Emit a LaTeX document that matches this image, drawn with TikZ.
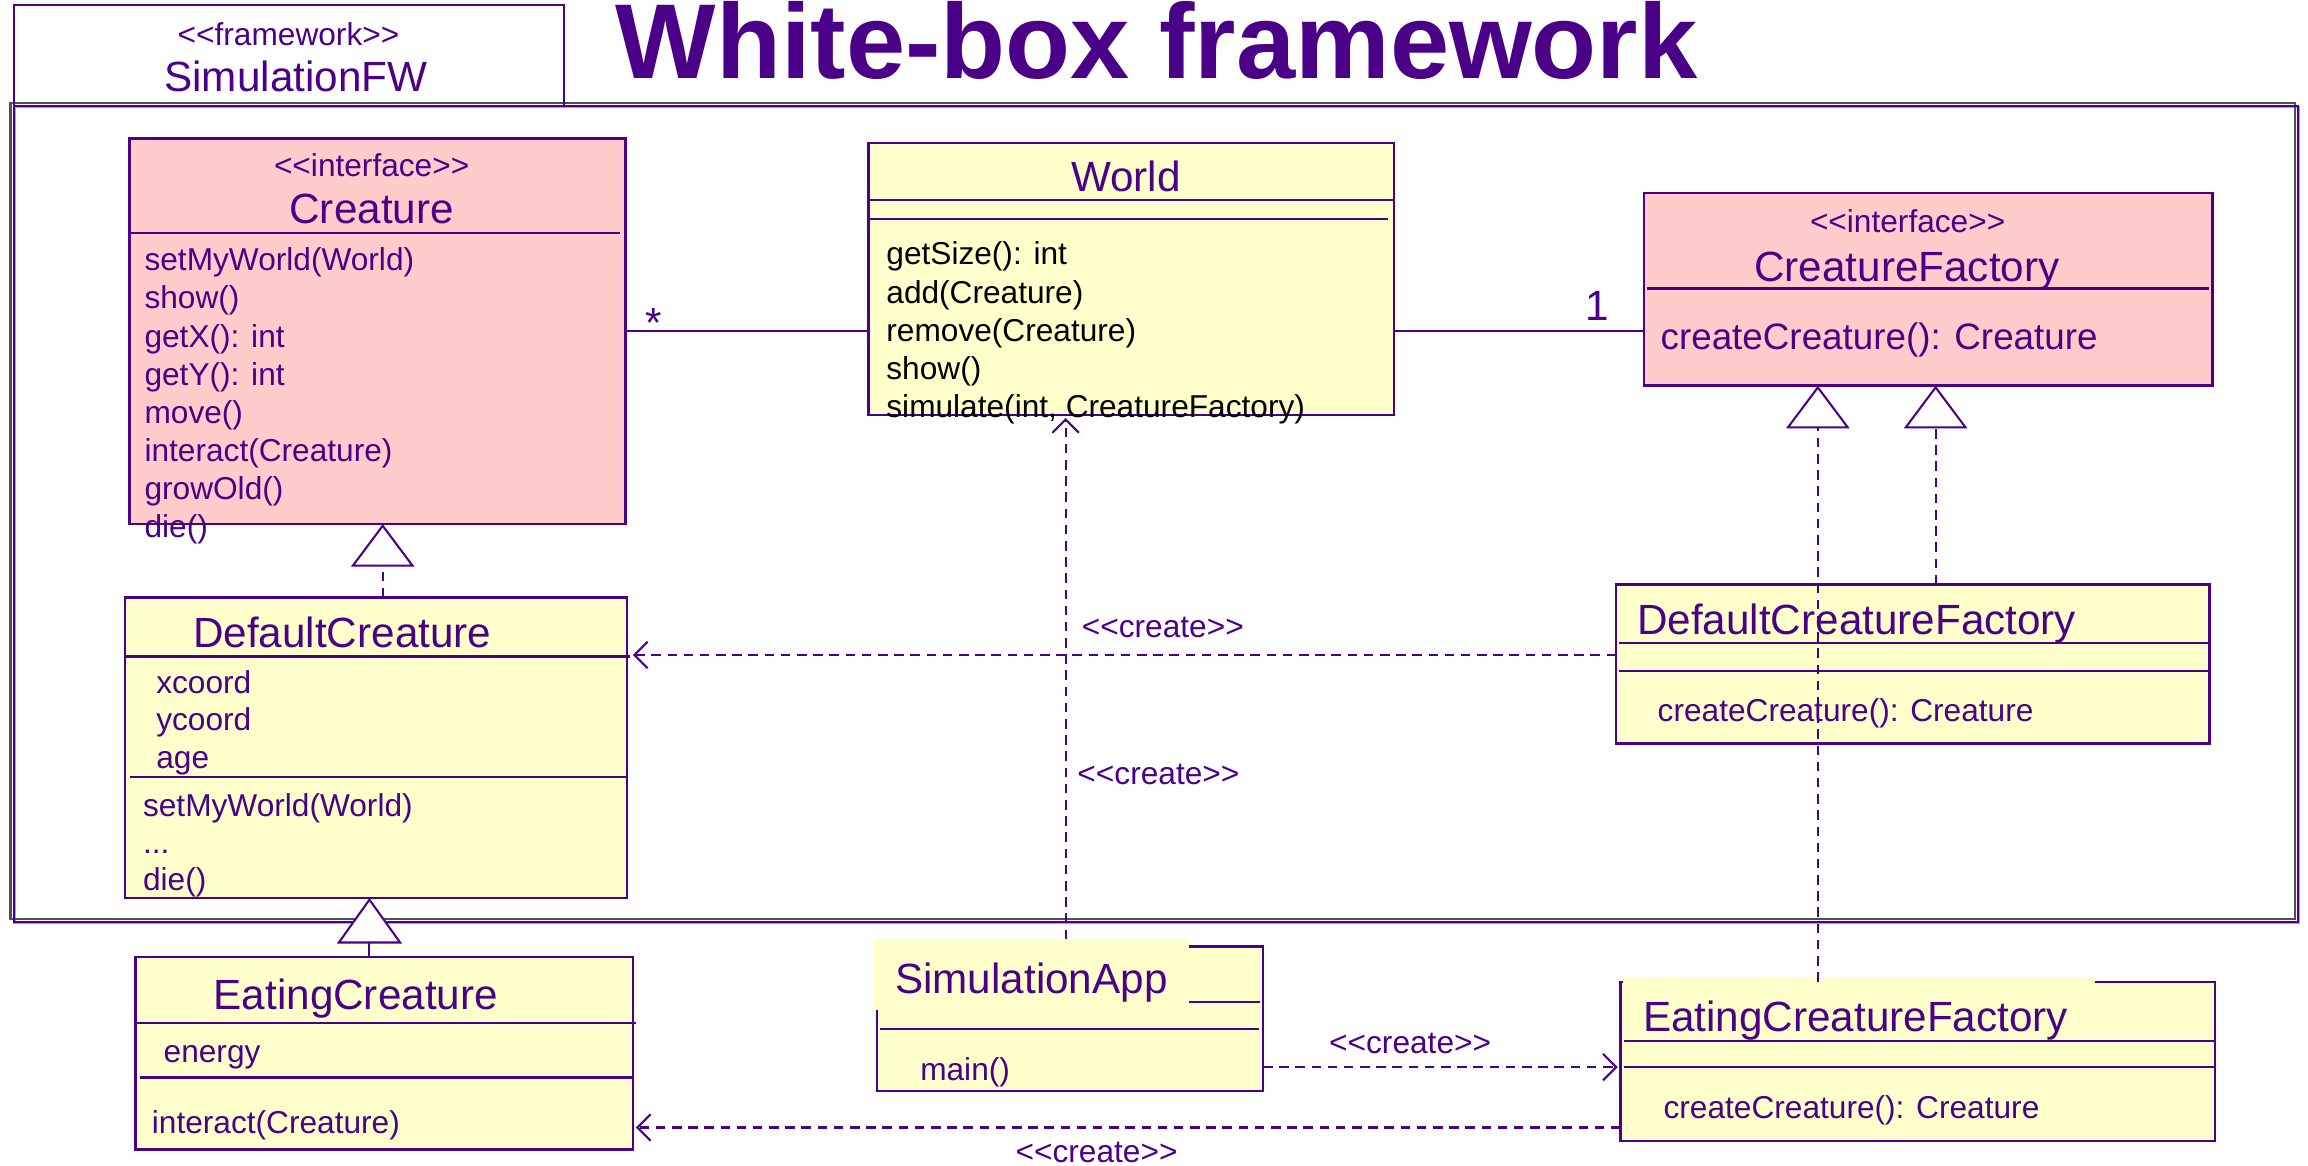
\documentclass[tikz,border=0pt]{standalone}
\usepackage{fontspec}
\setmainfont{Liberation Sans}
\usetikzlibrary{arrows.meta}
\definecolor{ink}{HTML}{4B0088}
\definecolor{pinkfill}{HTML}{FFCCCC}
\definecolor{creamfill}{HTML}{FFFFCC}
\definecolor{shadedark}{HTML}{505050}
\definecolor{shadelight}{HTML}{A8A8A8}
% guillemet-free stereotype brackets (kerns keep << and >> from being joined)
\newcommand\stereotype[1]{<\kern0pt<#1>\kern0pt>}

\begin{document}
\begin{tikzpicture}[x=1pt,y=-1pt,
  box/.style={draw=ink, line width=1.6pt, anchor=north west, inner sep=0pt, outer sep=0pt},
  pinkbox/.style={box, fill=pinkfill},
  creambox/.style={box, fill=creamfill},
  rule/.style={draw=ink, line width=1.4pt},
  body/.style={font=\fontsize{21.5}{26}\selectfont, text=ink, inner sep=0pt, anchor=base west},
  bigbody/.style={body, font=\fontsize{25}{30}\selectfont},
  plain/.style={body, text=black},
  heading/.style={font=\fontsize{28.7}{34}\selectfont, text=ink, inner sep=0pt, anchor=base west},
  headc/.style={heading, anchor=base},
  stereo/.style={body, anchor=base},
  assoc/.style={draw=ink, line width=1.4pt},
  create/.style={draw=ink, line width=1.4pt, dash pattern=on 6.5pt off 4.5pt,
    -{Straight Barb[length=9pt,width=18pt]}},
  realize/.style={draw=ink, line width=1.4pt, dash pattern=on 6.5pt off 4.5pt,
    -{Triangle[length=29pt,width=43pt,fill=white]}},
  extend/.style={draw=ink, line width=1.4pt,
    -{Triangle[length=31pt,width=44pt,fill=white]}},
]
\useasboundingbox (0,0) rectangle (1568,792);

% ---- heading
\node[font=\fontsize{72.3}{80}\selectfont\bfseries, text=ink, inner sep=0pt, anchor=base west]
  (title) at (418,53.5) {White-box framework};

% ---- package frame with bevel
\draw[shadelight, line width=1.6pt] (9.9,72.7) rectangle (1561.9,627.1);
\draw[shadedark, line width=1.6pt] (7.1,69.9) rectangle (1559.1,624.3);
\node[draw=ink, line width=1.4pt, anchor=north west, inner sep=0pt,
  minimum width=373.8pt, minimum height=68.3pt] (tab) at (8.5,3) {};
\node[draw=ink, line width=1.4pt, anchor=north west, inner sep=0pt,
  minimum width=1552pt, minimum height=554.4pt] (pkg) at (8.5,71.3) {};
\node[stereo] (tab-st) at (196,31) {\stereotype{framework}};
\node[headc] (tab-name) at (201,62) {SimulationFW};

% ---- Creature
\node[pinkbox, minimum width=337pt, minimum height=262pt] (creature) at (88,94) {};
\draw[rule] (88,158) -- (421,158);
\node[stereo] (cr-st) at (252.5,120) {\stereotype{interface}};
\node[headc] (cr-name) at (252.5,152) {Creature};
\node[body] (cr-m1) at (98,184) {setMyWorld(World)};
\node[body] (cr-m2) at (98,209.9) {show()};
\node[body] (cr-m3) at (98,235.8) {getX(): int};
\node[body] (cr-m4) at (98,261.7) {getY(): int};
\node[body] (cr-m5) at (98,287.6) {move()};
\node[body] (cr-m6) at (98,313.5) {interact(Creature)};
\node[body] (cr-m7) at (98,339.4) {growOld()};
\node[body] (cr-m8) at (98,365.3) {die()};

% ---- World
\node[creambox, minimum width=357pt, minimum height=185pt] (world) at (590,97) {};
\draw[rule] (590,136) -- (947,136);
\draw[rule] (590,149) -- (943,149);
\node[headc] (wo-name) at (765,130) {World};
\node[plain] (wo-m1) at (602,180) {getSize(): int};
\node[plain] (wo-m2) at (602,205.9) {add(Creature)};
\node[plain] (wo-m3) at (602,231.8) {remove(Creature)};
\node[plain] (wo-m4) at (602,257.7) {show()};
\node[plain] (wo-m5) at (602,283.6) {simulate(int, CreatureFactory)};

% ---- CreatureFactory
\node[pinkbox, minimum width=386pt, minimum height=131pt] (cf) at (1117,131) {};
\draw[rule] (1119,196) -- (1501,196);
\node[stereo] (cf-st) at (1296,158) {\stereotype{interface}};
\node[headc] (cf-name) at (1295.5,191) {CreatureFactory};
\node[bigbody] (cf-m1) at (1128,237.5) {createCreature(): Creature};

% ---- DefaultCreature
\node[creambox, minimum width=341pt, minimum height=204pt] (dc) at (85,406) {};
\draw[rule] (85,446) -- (428,446);
\draw[rule] (88,528) -- (426,528);
\node[heading] (dc-name) at (131,440) {DefaultCreature};
\node[body] (dc-a1) at (106,471) {xcoord};
\node[body] (dc-a2) at (106,496) {ycoord};
\node[body] (dc-a3) at (106,522) {age};
\node[body] (dc-m1) at (97,555) {setMyWorld(World)};
\node[body] (dc-m2) at (97,580) {...};
\node[body] (dc-m3) at (97,605) {die()};

% ---- EatingCreature
\node[creambox, minimum width=338pt, minimum height=131pt] (ec) at (92,650) {};
\draw[rule] (92,695) -- (432,695);
\draw[rule] (95,732) -- (430,732);
\node[heading] (ec-name) at (145,686) {EatingCreature};
\node[body] (ec-a1) at (111,722) {energy};
\node[body] (ec-m1) at (103,770) {interact(Creature)};

% ---- DefaultCreatureFactory
\node[creambox, minimum width=403pt, minimum height=108pt] (dcf) at (1098,397) {};
\draw[rule] (1100,437) -- (1501,437);
\draw[rule] (1100,456) -- (1501,456);
\node[heading] (dcf-name) at (1112,431) {DefaultCreatureFactory};
\node[body] (dcf-m1) at (1126,490) {createCreature(): Creature};

% ---- SimulationApp
\node[creambox, minimum width=262pt, minimum height=98pt] (app) at (596,643) {};
\fill[creamfill] (594,638) rectangle (808,686);
\draw[rule] (808,681) -- (856,681);
\draw[rule] (598,699) -- (855,699);
\node[heading] (app-name) at (608,675) {SimulationApp};
\node[body] (app-m1) at (625,734) {main()};

% ---- EatingCreatureFactory
\node[creambox, minimum width=404pt, minimum height=108pt] (ecf) at (1101,667) {};
\fill[creamfill] (1102.5,664) rectangle (1423,668.5);
\draw[rule] (1103,707) -- (1505,707);
\draw[rule] (1103,725) -- (1505,725);
\node[heading] (ecf-name) at (1116,701) {EatingCreatureFactory};
\node[body] (ecf-m1) at (1130,760) {createCreature(): Creature};

% ---- associations
\draw[assoc] (creature.east) -- (creature.east -| world.west);
\node[headc] (many) at (444,229) {*};
\draw[assoc] (world.east |- creature.east) -- (cf.west |- creature.east);
\node[headc] (one) at (1085,218) {1};

% ---- realization and generalization
\path (dc.north) ++(4.5,0) coordinate (dcTop);
\draw[realize] (dcTop) -- (dcTop |- creature.south);
\path (ec.north) ++(-10,0) coordinate (ecTop);
\draw[extend] (ecTop) -- (ecTop |- dc.south);
\path (dcf.north) ++(15.5,0) coordinate (dcfTop);
\draw[realize] (dcfTop) -- (dcfTop |- cf.south);
\path (ecf.north) ++(-68,0) coordinate (ecfTop);
\draw[realize] (ecfTop) -- (ecfTop |- cf.south);

% ---- create dependencies
\path (dcf.west) ++(0,-6) coordinate (dcfOut);
\draw[create, shorten >=4pt] (dcfOut) -- (dcfOut -| dc.east);
\node[stereo] (cr1) at (790,433) {\stereotype{create}};

\path (app.north) ++(-3,-5) coordinate (appTop);
\draw[create, shorten >=2pt] (appTop) -- (appTop |- world.south);
\node[stereo] (cr2) at (787,533) {\stereotype{create}};

\path (app.east) ++(0,33) coordinate (appOut);
\draw[create, shorten >=2pt] (appOut) -- (appOut -| ecf.west);
\node[stereo] (cr3) at (958,716) {\stereotype{create}};

\path (ecf.west) ++(0,45) coordinate (ecfOut);
\draw[create, shorten >=2pt] (ecfOut) -- (ecfOut -| ec.east);
\node[stereo] (cr4) at (745,790) {\stereotype{create}};
\end{tikzpicture}
\end{document}
